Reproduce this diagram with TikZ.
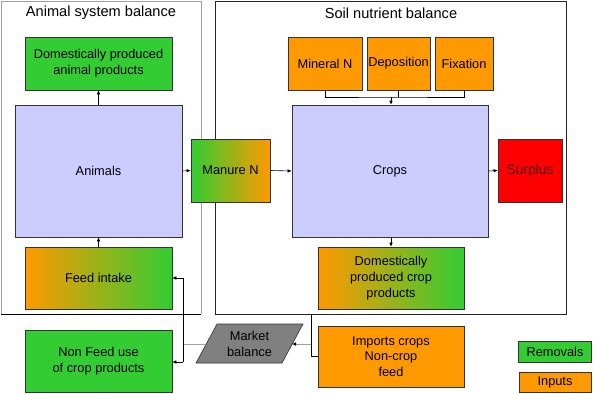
\documentclass[tikz,border=0pt]{standalone}
\usepackage{fontspec}
\setmainfont{Liberation Sans}
\usetikzlibrary{arrows.meta}
\definecolor{cgreen}{HTML}{33CC33}
\definecolor{corange}{HTML}{FF9900}
\definecolor{clav}{HTML}{CCCCFF}
\definecolor{cred}{HTML}{FF0000}
\definecolor{cgray}{HTML}{808080}
\definecolor{pgray}{HTML}{A0A0A0}
\tikzset{
  box/.style={draw=black!80, line width=0.6pt, inner sep=1pt, align=center, font=\fontsize{12.8}{15.8}\selectfont},
  gbox/.style={box, fill=cgreen},
  obox/.style={box, fill=corange},
  lbox/.style={box, fill=clav},
  ogbox/.style={box, left color=corange, right color=cgreen, shading=axis},
  gobox/.style={box, left color=cgreen, right color=corange, shading=axis},
  arr/.style={-{Latex[length=4pt,width=3.5pt]}, line width=0.6pt, black},
  ln/.style={line width=0.6pt, black},
  gln/.style={line width=1pt, pgray},
  ttl/.style={font=\fontsize{14.6}{17}\selectfont}
}
\begin{document}
\begin{tikzpicture}[x=1pt,y=-1pt]
\useasboundingbox (0,0) rectangle (593,393);
\fill[white] (0,0) rectangle (593,393);
% panels
\draw[pgray, line width=0.8pt] (1,314) -- (1,1) -- (201,1) -- (201,314);
\draw[black, line width=0.8pt] (1,314) -- (201,314);
\draw[black!85, line width=0.8pt] (215,1) rectangle (566,314);
\node[ttl] (t1) at (101,13) {Animal system balance};
\node[ttl] (t2) at (391,13) {Soil nutrient balance};
% nodes
\node[gbox, minimum width=147pt, minimum height=53pt] (dap) at (98.5,63.5) {Domestically produced\\animal products};
\node[lbox, minimum width=167pt, minimum height=132pt] (animals) at (98.5,171) {Animals};
\node[ogbox, minimum width=147pt, minimum height=62pt] (feed) at (98.5,278) {Feed intake};
\node[gbox, minimum width=147pt, minimum height=62pt] (nonfeed) at (98.5,361) {Non Feed use\\of crop products};
\node[gobox, minimum width=79pt, minimum height=63pt] (manure) at (230.5,170.5) {Manure N};
\node[lbox, minimum width=196pt, minimum height=132pt] (crops) at (390,171) {Crops};
\node[box, fill=cred, text=red!30!black, minimum width=64pt, minimum height=63pt, font=\fontsize{14}{16}\selectfont] (surplus) at (530,170.5) {Surplus};
\node[obox, minimum width=74pt, minimum height=53pt] (mineral) at (325,63.5) {Mineral N};
\node[obox, minimum width=63pt, minimum height=53pt] (dep) at (398.5,63.5) {Deposition};
\node[obox, minimum width=58pt, minimum height=53pt] (fix) at (464,63.5) {Fixation};
\node[ogbox, minimum width=146pt, minimum height=62pt] (dcp) at (391,278) {Domestically\\produced crop\\products};
\node[obox, minimum width=146pt, minimum height=61pt] (imports) at (391,356.5) {Imports crops\\Non-crop\\feed};
\node[gbox, minimum width=73pt, minimum height=21pt] (removals) at (555,351.5) {Removals};
\node[obox, minimum width=72pt, minimum height=20pt] (inputs) at (555,382) {Inputs};
% market balance parallelogram
\draw[black!80, line width=0.6pt, fill=cgray] (217,324) -- (303,324) -- (282,363) -- (196,363) -- cycle;
\node[align=center, font=\fontsize{12.8}{15.5}\selectfont] (market) at (249.5,344) {Market\\balance};
\coordinate (mbR) at (292,344);
\coordinate (mbL) at (206,344);
% connectors
\coordinate (j) at (391,97);
\draw[ln] (mineral.south) |- (j) -| (fix.south);
\draw[ln] (dep.south) -- (dep.south |- j);
\draw[arr] (j) -- (crops.north -| j);
\draw[arr] (animals.east) -- (manure.west);
\draw[arr] (manure.east) -- (crops.west);
\draw[arr] (crops.east) -- (surplus.west);
\draw[arr] (animals.north) -- (dap.south);
\draw[arr] (feed.north) -- (animals.south);
\draw[arr] (crops.south -| dcp.north) -- (dcp.north);
% imports & market
\coordinate (ij) at (311,356.5);
\coordinate (pb) at (311,314);
\draw[ln] (imports.west) -- (ij) -- (pb);
\coordinate (ig) at (311,344);
\coordinate (ia) at (295,344);
\draw[gln] (ig) -- (ia);
\draw[arr] (ia) -- (mbR);
\coordinate (v) at (183,344);
\draw[gln] (mbL) -- (v);
\coordinate (vt) at (183,278);
\coordinate (vb) at (183,362);
\draw[ln] (vt) -- (vb);
\draw[arr] (vt) -- (feed.east);
\draw[arr] (vb) -- (nonfeed.east |- vb);
\end{tikzpicture}
\end{document}
